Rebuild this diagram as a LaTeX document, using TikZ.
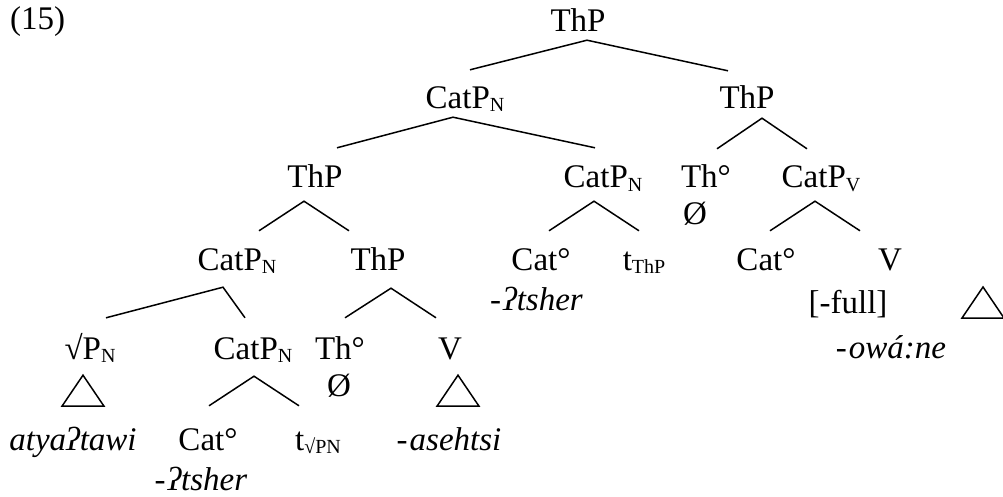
\documentclass[tikz,border=0pt]{standalone}
\usepackage{fontspec}
\setmainfont{Liberation Serif}
\newcommand\lowidx[1]{\raisebox{-3pt}{\fontsize{20}{20}\selectfont #1}}
\tikzset{
  tn/.style={anchor=base, inner sep=0pt, text height=23pt, text depth=0pt},
  lft/.style={anchor=base west, inner sep=0pt},
  branch/.style={line width=1.5pt},
}

\begin{document}
\begin{tikzpicture}[x=1pt,y=-1pt,font=\fontsize{33}{40}\selectfont]
\useasboundingbox (0,0) rectangle (1003,497);
\node[lft] (ex) at (10,30) {(15)};
% level 0 and 1
\node[tn] (thp0) at (578,32) {ThP};
\node[tn] (catn1) at (465,109) {CatP\lowidx{N}};
\node[tn] (thp1) at (747,109) {ThP};
% level 2
\node[tn] (thp2) at (315,188) {ThP};
\node[tn] (catn2) at (603,188) {CatP\lowidx{N}};
\node[tn] (th2) at (706,188) {Th°};
\node[lft] (null2) at (683,224) {Ø};
\node[tn] (catv2) at (821,188) {CatP\lowidx{V}};
% level 3
\node[tn] (catn3) at (237,270) {CatP\lowidx{N}};
\node[tn] (thp3) at (378,270) {ThP};
\node[tn] (cat3) at (541,270) {Cat°};
\node[lft] (tsher3) at (490,310) {-\kern2pt\textit{ʔtsher}};
\node[tn] (tthp3) at (644,270) {t\lowidx{ThP}};
\node[tn] (cat3b) at (766,270) {Cat°};
\node[tn] (v3) at (890,270) {V};
\node[tn] (full3) at (848,313) {[-full]};
\node[tn] (owane) at (891,358) {-\kern2pt\textit{owá:ne}};
% level 4
\node[tn] (sqrtp4) at (90,359) {√P\lowidx{N}};
\node[tn] (catn4) at (253,359) {CatP\lowidx{N}};
\node[tn] (th4) at (340,359) {Th°};
\node[lft] (null4) at (327,396) {Ø};
\node[tn] (v4) at (450,359) {V};
% level 5
\node[tn] (atya5) at (73,450) {\textit{atyaʔtawi}};
\node[tn] (cat5) at (208,450) {Cat°};
\node[tn] (tsher5) at (201,490) {-\kern2pt\textit{ʔtsher}};
\node[tn] (tsqrt5) at (318,450) {t\lowidx{√PN}};
\node[tn] (aseh5) at (449,450) {-\kern2pt\textit{asehtsi}};

% branches
\draw[branch] ([xshift=-19,yshift=15]thp1.north) -- ([xshift=9,yshift=-8]thp0.south) -- ([xshift=5,yshift=16]catn1.north);
\draw[branch] ([xshift=22,yshift=17]thp2.north) -- ([xshift=-12,yshift=-8]catn1.south) -- ([xshift=-8,yshift=17]catn2.north);
\draw[branch] ([xshift=11,yshift=16]th2.north) -- ([xshift=15,yshift=-9]thp1.south) -- ([xshift=-14,yshift=16]catv2.north);
\draw[branch] ([xshift=22,yshift=16]catn3.north) -- ([xshift=-11,yshift=-13]thp2.south) -- ([xshift=-29,yshift=16]thp3.north);
\draw[branch] ([xshift=8,yshift=16]cat3.north) -- ([xshift=-9,yshift=-13]catn2.south) -- ([xshift=-5,yshift=16]tthp3.north);
\draw[branch] ([xshift=4,yshift=16]cat3b.north) -- ([xshift=-6,yshift=-13]catv2.south) -- ([xshift=-30,yshift=16]v3.north);
\draw[branch] ([xshift=16,yshift=18]sqrtp4.north) -- ([xshift=-14,yshift=-17]catn3.south) -- ([xshift=-8,yshift=18]catn4.north);
\draw[branch] ([xshift=5,yshift=18]th4.north) -- ([xshift=13,yshift=-18]thp3.south) -- ([xshift=-14,yshift=18]v4.north);
\draw[branch] ([xshift=1,yshift=21]cat5.north) -- ([xshift=1,yshift=-17]catn4.south) -- ([xshift=-19,yshift=21]tsqrt5.north);
% triangles
\draw[branch] ([xshift=-7,yshift=-16]sqrtp4.south) -- ++(-21,31) -- ++(42,0) -- cycle;
\draw[branch] ([xshift=8,yshift=-16]v4.south) -- ++(-21,31) -- ++(42,0) -- cycle;
\draw[branch] (983,287) -- ++(-21,31) -- ++(42,0) -- cycle;
\end{tikzpicture}
\end{document}
